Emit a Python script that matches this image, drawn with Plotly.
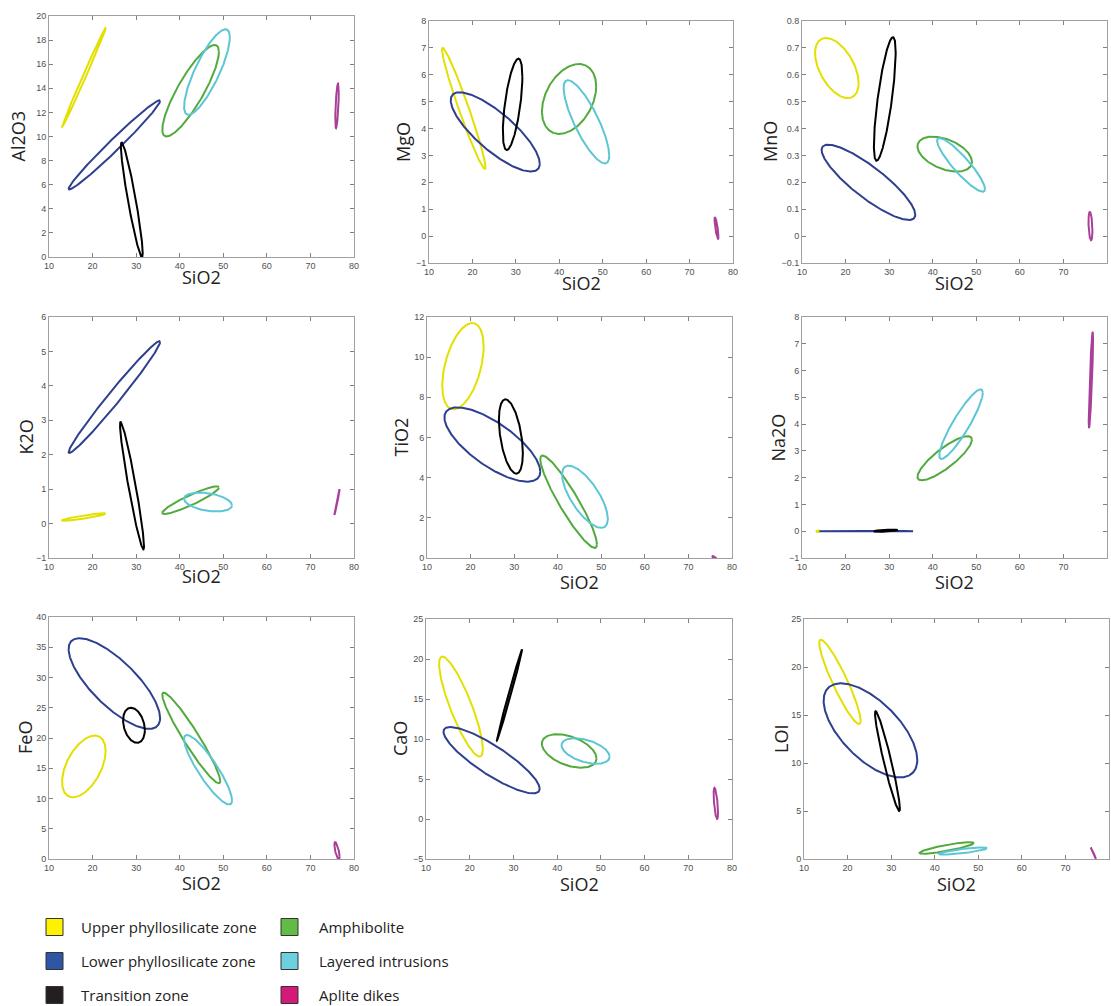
import numpy as np
import plotly.graph_objects as go

W, H = 1111, 1006

groups = ["Upper phyllosilicate zone", "Lower phyllosilicate zone", "Transition zone",
          "Amphibolite", "Layered intrusions", "Aplite dikes"]
line_colors = ["#E3E000", "#2E3F8F", "#000000", "#52AA3E", "#5CC6D4", "#A8409A"]
legend_colors = ["#FFF200", "#2F55A5", "#231F20", "#62BB46", "#6DCFE0", "#D4197A"]

oxides = ["Al2O3", "MgO", "MnO", "K2O", "TiO2", "Na2O", "FeO", "CaO", "LOI"]
y_ranges = [[0, 20], [-1, 8], [-0.1, 0.8], [-1, 6], [0, 12], [-1, 8], [0, 40], [-5, 25], [0, 25]]
y_dticks = [2, 1, 0.1, 1, 2, 1, 5, 5, 5]
x_range = [10, 80]

# ellipse parameters per group: (SiO2 centre, oxide centre, SiO2 half-range, oxide half-range, correlation)
al2o3 = [(18.0, 14.9, 5.0, 4.1, 0.997), (25.0, 9.3, 10.5, 3.7, 0.985), (29.0, 4.75, 2.5, 4.75, -0.93),
         (42.5, 13.8, 6.5, 3.8, 0.85), (46.25, 15.35, 5.25, 3.55, 0.81), (76.1, 12.55, 0.4, 1.85, 0.6)]
mgo = [(18.0, 4.75, 5.0, 2.25, -0.97), (25.25, 3.875, 10.25, 1.475, -0.80), (29.25, 4.9, 2.25, 1.7, 0.6),
       (42.25, 5.1, 6.25, 1.3, 0.36), (46.25, 4.25, 5.25, 1.55, -0.81), (76.2, 0.3, 0.45, 0.4, -0.8)]
mno = [(18.0, 0.625, 5.0, 0.112, -0.5), (25.25, 0.2, 10.75, 0.14, -0.86), (29.0, 0.51, 2.5, 0.23, 0.75),
       (42.75, 0.305, 6.25, 0.065, -0.44), (46.5, 0.265, 5.5, 0.1, -0.9), (76.2, 0.037, 0.45, 0.053, -0.3)]
k2o = [(18.0, 0.19, 5.0, 0.11, 0.9), (25.0, 3.675, 10.5, 1.625, 0.985), (29.05, 1.1, 2.75, 1.85, -0.95),
       (42.5, 0.68, 6.5, 0.4, 0.92), (46.5, 0.625, 5.5, 0.275, -0.35), (76.1, 0.625, 0.6, 0.375, 0.99)]
tio2 = [(18.25, 9.55, 4.75, 2.15, 0.45), (25.0, 5.65, 11.0, 1.85, -0.73), (29.25, 6.05, 2.75, 1.85, -0.45),
        (42.5, 2.8, 6.5, 2.3, -0.92), (46.25, 3.05, 5.25, 1.55, -0.71), (76.0, 0.0, 0.5, 0.1, -0.8)]
na2o = [(13.7, 0.0, 0.4, 0.03, 0.0), (24.75, 0.0, 10.75, 0.01, 0.0), (29.25, 0.02, 2.75, 0.04, 0.5),
        (42.75, 2.725, 6.25, 0.825, 0.84), (46.5, 4.0, 5.0, 1.3, 0.9), (76.3, 5.65, 0.5, 1.8, 0.85)]
feo = [(18.0, 15.3, 5.0, 5.1, 0.5), (25.0, 29.0, 10.5, 7.5, -0.76), (29.5, 22.1, 2.5, 2.9, -0.28),
       (42.65, 20.0, 6.65, 7.5, -0.95), (46.5, 14.75, 5.5, 5.75, -0.88), (76.1, 1.35, 0.6, 1.45, -0.7)]
cao = [(18.0, 14.05, 5.0, 6.25, -0.85), (25.0, 7.35, 11.0, 4.15, -0.86), (29.1, 15.5, 2.9, 5.7, 0.995),
       (42.75, 8.5, 6.25, 2.1, -0.44), (46.5, 8.5, 5.5, 1.6, -0.45), (76.3, 1.95, 0.5, 1.95, -0.6)]
loi = [(18.25, 18.45, 4.75, 4.4, -0.92), (25.25, 13.4, 10.75, 4.9, -0.63), (29.15, 10.2, 2.85, 5.2, -0.95),
       (42.75, 1.15, 6.25, 0.6, 0.85), (46.5, 0.83, 5.5, 0.37, 0.8), (76.4, 0.6, 0.6, 0.6, -0.99)]
panel_data = [al2o3, mgo, mno, k2o, tio2, na2o, feo, cao, loi]

# plot-area pixel boxes (left, right, top, bottom)
boxes = [(49, 354, 16, 257), (429, 733, 21, 263), (802, 1107, 21, 263),
         (49, 354, 317, 558), (427, 732, 317, 558), (802, 1107, 317, 558),
         (49, 354, 617, 859), (426, 732, 619, 859), (804, 1109, 619, 859)]
ytitle_x = [17, 403, 770, 25, 400, 777, 25, 400, 781]
xtitle_y = [277, 283, 283, 576, 582, 582, 883, 884, 884]

fig = go.Figure()
t = np.linspace(0, 2 * np.pi, 361)
annotations = []
for i, (ox, pdata) in enumerate(zip(oxides, panel_data)):
    ax = "" if i == 0 else str(i + 1)
    for g, (cx, cy, hx, hy, r) in enumerate(pdata):
        x = cx + hx * np.cos(t)
        y = cy + hy * (r * np.cos(t) + np.sqrt(max(1 - r * r, 0)) * np.sin(t))
        fig.add_trace(go.Scatter(x=x, y=y, mode="lines", line=dict(color=line_colors[g], width=2),
                                 xaxis="x" + ax, yaxis="y" + ax, showlegend=False, hoverinfo="skip"))
    l, rgt, tp, bt = boxes[i]
    axis_common = dict(showline=True, linecolor="#A0A0A0", linewidth=1, mirror="ticks", ticks="inside",
                       ticklen=4, tickcolor="#808080", showgrid=False, zeroline=False, automargin=False,
                       tickfont=dict(family="Arial, Liberation Sans", size=9, color="#505050"))
    fig.layout["xaxis" + ax] = dict(domain=[l / W, rgt / W], range=x_range, dtick=10,
                                    anchor="y" + ax, **axis_common)
    fig.layout["yaxis" + ax] = dict(domain=[1 - bt / H, 1 - tp / H], range=y_ranges[i], dtick=y_dticks[i],
                                    anchor="x" + ax, **axis_common)
    annotations.append(dict(text=ox, x=ytitle_x[i] / W, y=1 - (tp + bt) / 2 / H, xref="paper", yref="paper",
                            textangle=-90, showarrow=False, xanchor="center", yanchor="middle",
                            font=dict(family="Open Sans", size=18, color="#222")))
    annotations.append(dict(text="SiO2", x=(l + rgt) / 2 / W, y=1 - xtitle_y[i] / H, xref="paper",
                            yref="paper", showarrow=False, xanchor="center", yanchor="middle",
                            font=dict(family="Open Sans", size=18, color="#222")))

# legend (two columns)
shapes = []
sq_x = [46, 281]
txt_x = [79, 317]
row_y = [927, 961, 995]
for g, name in enumerate(groups):
    col, row = divmod(g, 3)
    x0, yc = sq_x[col], row_y[row]
    shapes.append(dict(type="rect", xref="paper", yref="paper", x0=x0 / W, x1=(x0 + 17) / W,
                       y0=1 - (yc + 8.5) / H, y1=1 - (yc - 8.5) / H,
                       fillcolor=legend_colors[g], line=dict(color="#333", width=1)))
    annotations.append(dict(text=name, x=txt_x[col] / W, y=1 - yc / H, xref="paper", yref="paper",
                            showarrow=False, xanchor="left", yanchor="middle",
                            font=dict(family="Open Sans", size=15, color="#222")))

fig.update_layout(width=W, height=H, margin=dict(l=0, r=0, t=0, b=0, pad=0, autoexpand=False),
                  paper_bgcolor="white", plot_bgcolor="white", annotations=annotations, shapes=shapes,
                  showlegend=False)
fig.write_html("out.html", config={"displayModeBar": False},
               post_script="document.body.style.margin='0';document.body.style.padding='0';"
                           "document.body.style.overflow='hidden';")
